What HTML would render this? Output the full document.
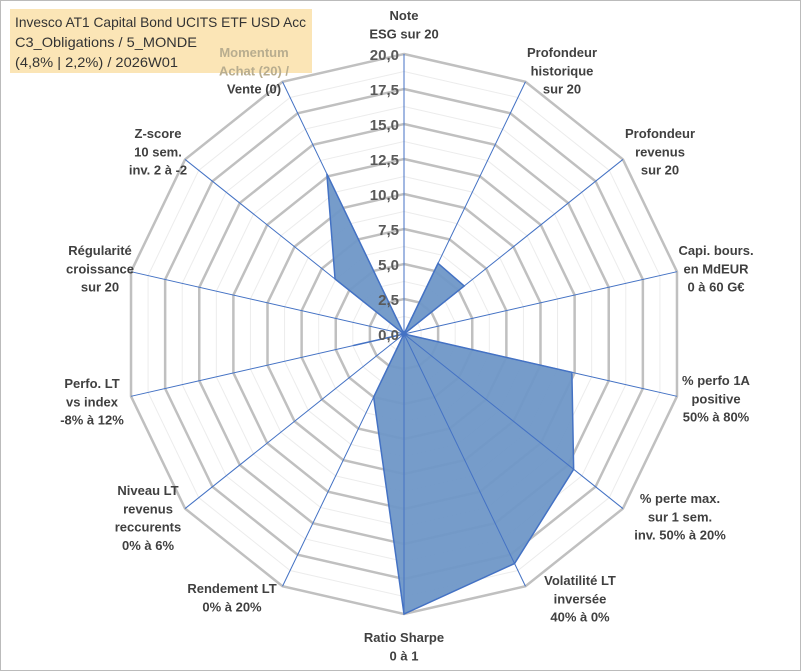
<!DOCTYPE html>
<html><head><meta charset="utf-8"><style>
body{margin:0;background:#fff;}
#c{position:relative;width:801px;height:671px;overflow:hidden;}
svg text{font-family:"Liberation Sans",sans-serif;}
</style></head><body>
<div id="c">
<svg id="s" width="801" height="671" xmlns="http://www.w3.org/2000/svg">
<rect x="0.5" y="0.5" width="800" height="670" fill="#fff" stroke="#bbb"/>
<rect x="10" y="9" width="302" height="64" fill="#fbe5b6"/>
<g font-size="14" fill="#333">
<text x="15" y="27" textLength="291" lengthAdjust="spacingAndGlyphs">Invesco AT1 Capital Bond UCITS ETF USD Acc</text>
<text x="15" y="47" textLength="182" lengthAdjust="spacingAndGlyphs">C3_Obligations / 5_MONDE</text>
<text x="15" y="67" textLength="163" lengthAdjust="spacingAndGlyphs">(4,8% | 2,2%) / 2026W01</text>
</g>
</svg>
</div>
<script>
const categories=["Note\nESG sur 20","Profondeur\nhistorique\nsur 20","Profondeur\nrevenus\nsur 20","Capi. bours.\nen MdEUR\n0 à 60 G€","% perfo 1A\npositive\n50% à 80%","% perte max.\nsur 1 sem.\ninv. 50% à 20%","Volatilité LT\ninversée\n40% à 0%","Ratio Sharpe\n0 à 1","Rendement LT\n0% à 20%","Niveau LT\nrevenus\nreccurents\n0% à 6%","Perfo. LT\nvs index\n-8% à 12%","Régularité\ncroissance\nsur 20","Z-score\n10 sem.\ninv. 2 à -2","Momentum\nAchat (20) /\nVente (0)"];
const values=[0,5.6,5.5,0,12.3,15.5,18.2,20,5.0,0,3.7,0,6.3,12.7];
const tickLabels=["0,0","2,5","5,0","7,5","10,0","12,5","15,0","17,5","20,0"];
const maxVal=20;
const cx=404,cy=334,R=280,N=categories.length;
// label anchor placements (center x, first-line center y)
const labelPos=[[404,15],[562,52],[660,133],[716,250],[716,380],[680,498],[580,580],[404,637],[232,588],[148,490],[92,383],[100,250],[158,133],[254,52]];
const svg=document.getElementById('s');
const NS="http://www.w3.org/2000/svg";
function ang(i){return -Math.PI/2+i*2*Math.PI/N;}
function pt(i,v){const r=v/maxVal*R;return [cx+r*Math.cos(ang(i)),cy+r*Math.sin(ang(i))];}
function mk(t,a){const e=document.createElementNS(NS,t);for(const k in a)e.setAttribute(k,a[k]);svg.appendChild(e);return e;}
for(let k=1;k<=16;k++){const v=k*1.25;const p=[];for(let i=0;i<N;i++)p.push(pt(i,v).join(','));
const g=mk('polygon',{points:p.join(' '),fill:'none',stroke:k%2==0?'#c0c0c0':'#ececec','stroke-width':k%2==0?2.5:1});

}
const dp=values.map((v,i)=>pt(i,v).join(',')).join(' ');
const poly=mk('polygon',{points:dp,fill:'#6f97c7',stroke:'#4472c4','stroke-width':1.5,'fill-opacity':0.95});


for(let i=0;i<N;i++){const [x,y]=pt(i,maxVal);const l=mk('line',{x1:cx,y1:cy,x2:x,y2:y,stroke:'#4472c4','stroke-width':1});

}
tickLabels.forEach((t,k)=>{const v=k*2.5;const y=cy-v/maxVal*R;
const e=mk('text',{x:cx-5,y:y+6,'text-anchor':'end','font-size':15,'font-weight':'bold',fill:'#595959'});e.textContent=t;

});
categories.forEach((c,i)=>{const lines=c.split('\n');const lh=18.3;const [x,y0]=labelPos[i];
const t=mk('text',{x:x,y:y0+5,'text-anchor':'middle','font-size':13,'font-weight':'bold',fill:'#404040'});
lines.forEach((ln,j)=>{const ts=document.createElementNS(NS,'tspan');ts.setAttribute('x',x);ts.setAttribute('y',y0+5+j*lh);ts.textContent=ln;
if(i==13&&j<2)ts.setAttribute('fill','#b8ad8f');t.appendChild(ts);});

});
</script>
</body></html>
